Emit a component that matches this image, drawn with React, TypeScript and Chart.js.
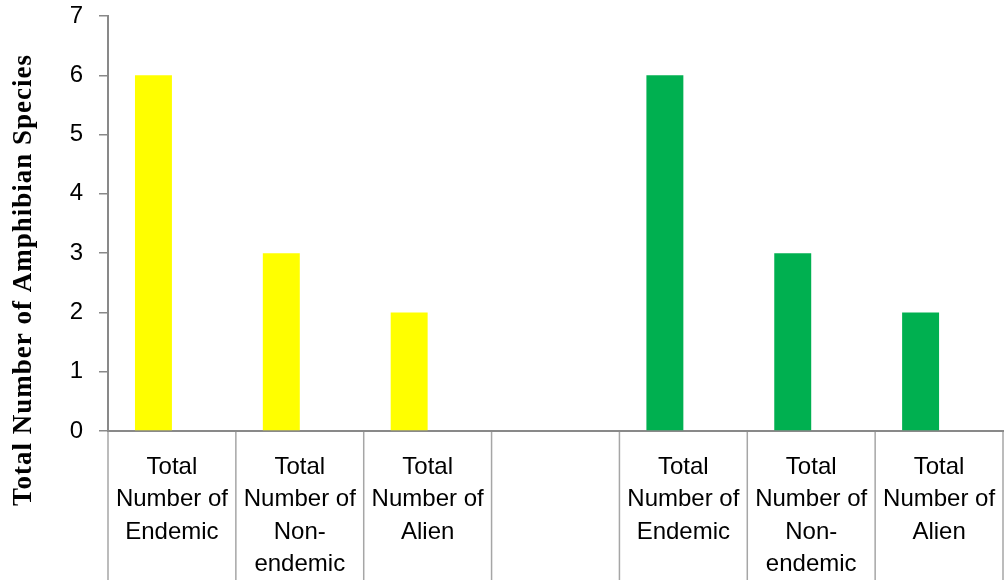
import React, { useEffect, useRef } from "react";
import { Chart, registerables } from "chart.js";

Chart.register(...registerables);

const categories: (string | string[])[] = [
  ["Total", "Number of", "Endemic"],
  ["Total", "Number of", "Non-", "endemic"],
  ["Total", "Number of", "Alien"],
  "",
  ["Total", "Number of", "Endemic"],
  ["Total", "Number of", "Non-", "endemic"],
  ["Total", "Number of", "Alien"],
];
const speciesValues: (number | null)[] = [6, 3, 2, null, 6, 3, 2];
const barColors: string[] = ["#FFFF00", "#FFFF00", "#FFFF00", "#FFFF00", "#00B050", "#00B050", "#00B050"];
const emptySeries: (number | null)[] = [null, null, null, null, null, null, null];
const yMin = 0;
const yMax = 7;
const yTitle = "Total Number of Amphibian Species";

const separatorPlugin = {
  id: "separators",
  afterDraw(chart: any) {
    const x = chart.scales.x;
    const ctx = chart.ctx;
    ctx.save();
    ctx.strokeStyle = "#a6a6a6";
    ctx.lineWidth = 1.5;
    for (let i = 0; i <= categories.length; i++) {
      const px = x.getPixelForValue(i - 0.5);
      ctx.beginPath();
      ctx.moveTo(px, x.top + 1);
      ctx.lineTo(px, chart.height);
      ctx.stroke();
    }
    ctx.restore();
  },
};

const titlePlugin = {
  id: "yTitle",
  afterDraw(chart: any) {
    const ctx = chart.ctx;
    ctx.save();
    ctx.translate(24, 280);
    ctx.rotate(-Math.PI / 2);
    ctx.font = "bold 27px 'Liberation Serif'";
    (ctx as any).letterSpacing = "1px";
    ctx.fillStyle = "#000";
    ctx.textAlign = "center";
    ctx.textBaseline = "middle";
    ctx.fillText(yTitle, 0, 0);
    ctx.restore();
  },
};

export default function App() {
  const ref = useRef<HTMLCanvasElement>(null);
  useEffect(() => {
    if (!ref.current) return;
    const chart = new Chart(ref.current, {
      type: "bar",
      data: {
        labels: categories,
        datasets: [
          { data: speciesValues, backgroundColor: barColors, barPercentage: 1, categoryPercentage: 0.578 },
          { data: emptySeries, backgroundColor: "#00B050", barPercentage: 1, categoryPercentage: 0.578 },
        ],
      },
      options: {
        animation: false,
        responsive: true,
        maintainAspectRatio: false,
        layout: { padding: { top: 16, right: 2, left: 0, bottom: 0 } },
        plugins: { legend: { display: false }, tooltip: { enabled: false } },
        scales: {
          x: {
            offset: true,
            grid: { drawOnChartArea: false, drawTicks: false, display: false },
            border: { display: true, color: "#898989", width: 2 },
            ticks: {
              font: { family: "'Liberation Sans'", size: 24, lineHeight: 1.354 },
              color: "#000",
              padding: 20,
              maxRotation: 0,
              minRotation: 0,
              autoSkip: false,
            },
            afterFit: (s: any) => {
              s.height = 149;
              s.paddingLeft = 0;
              s.paddingRight = 0;
            },
          },
          y: {
            min: yMin,
            max: yMax,
            ticks: {
              stepSize: 1,
              font: { family: "'Liberation Sans'", size: 24 },
              color: "#000",
              padding: 16,
            },
            grid: { drawOnChartArea: false, tickLength: 9, color: "#898989", lineWidth: 1.5 },
            border: { color: "#898989", width: 2 },
            afterFit: (s: any) => {
              s.width = 108;
              s.paddingTop = 0;
              s.paddingBottom = 0;
            },
          },
        },
      },
      plugins: [separatorPlugin, titlePlugin],
    });
    return () => chart.destroy();
  }, []);
  return (
    <div style={{ position: "absolute", left: 0, top: 0, width: 1005, height: 580 }}>
      <canvas ref={ref} />
    </div>
  );
}
